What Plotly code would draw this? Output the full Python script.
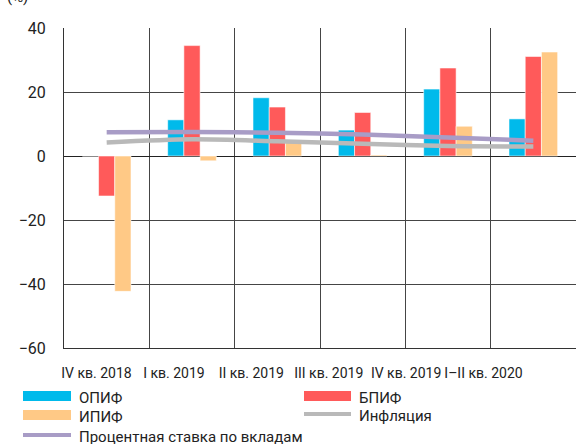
import plotly.graph_objects as go

categories = ["IV кв. 2018", "I кв. 2019", "II кв. 2019", "III кв. 2019", "IV кв. 2019", "I–II кв. 2020"]
opif = [0, 11.3, 18.2, 8.1, 20.9, 11.6]
bpif = [-12.5, 34.5, 15.3, 13.6, 27.5, 31.1]
ipif = [-42.3, -1.5, 4.3, 0.3, 9.3, 32.5]
inflation = [4.2, 5.2, 4.6, 3.8, 3.1, 3.0]
deposit_rate = [7.4, 7.5, 7.3, 6.7, 5.8, 4.8]
y_ticks = [-60, -40, -20, 0, 20, 40]

names = ["ОПИФ", "БПИФ", "ИПИФ", "Инфляция", "Процентная ставка по вкладам"]
C_BLUE = "#00baeb"
C_RED = "#ff5a5a"
C_YEL = "#ffc986"
C_GRAY = "#b9b9b9"
C_PURP = "#a89cc6"

FONT = "Roboto, sans-serif"

W, H = 577, 444
L, R, T, B = 64, 1, 28, 96
PW, PH = W - L - R, H - T - B


def px(x):
    return (x - L) / PW


def py(y):
    return (H - B - y) / PH


fig = go.Figure()
edge = dict(color="rgba(255,255,255,0.55)", width=1)
fig.add_trace(go.Bar(x=categories, y=opif, name=names[0], marker=dict(color=C_BLUE, line=edge)))
fig.add_trace(go.Bar(x=categories, y=bpif, name=names[1], marker=dict(color=C_RED, line=edge)))
fig.add_trace(go.Bar(x=categories, y=ipif, name=names[2], marker=dict(color=C_YEL, line=edge)))
fig.add_trace(go.Scatter(x=categories, y=inflation, name=names[3], mode="lines",
                         line=dict(color=C_GRAY, width=4.5, shape="spline", smoothing=0.8)))
fig.add_trace(go.Scatter(x=categories, y=deposit_rate, name=names[4], mode="lines",
                         line=dict(color=C_PURP, width=4.5, shape="spline", smoothing=0.8)))
# carrier for the label axis
fig.add_trace(go.Scatter(x=list(range(len(categories))), y=[0] * len(categories), xaxis="x2",
                         mode="markers", marker=dict(opacity=0), hoverinfo="skip", showlegend=False))

GRID = "#454545"
fig.update_layout(
    width=W, height=H,
    margin=dict(l=L, r=R, t=T, b=B, autoexpand=False),
    paper_bgcolor="white", plot_bgcolor="white",
    barmode="group", bargap=0.43, bargroupgap=0,
    showlegend=False,
    font=dict(family=FONT, size=16, color="#222"),
    xaxis=dict(type="category", range=[-0.5, 5.5], tickson="boundaries", automargin=False,
               showticklabels=False, ticks="", showgrid=True, gridcolor=GRID, gridwidth=1,
               showline=True, linecolor="#333", linewidth=1),
    xaxis2=dict(overlaying="x", anchor="y", side="bottom", range=[-0.42, 6.195], automargin=False,
                tickvals=list(range(len(categories))), ticktext=categories, tickangle=0,
                showgrid=False, showline=False, zeroline=False,
                ticks="outside", ticklen=12, tickcolor="rgba(0,0,0,0)",
                tickfont=dict(family=FONT, size=14, color="#222")),
    yaxis=dict(range=[-60, 40], tickvals=y_ticks, showgrid=True, gridcolor=GRID, gridwidth=1,
               automargin=False,
               zeroline=True, zerolinecolor="#222", zerolinewidth=1,
               showline=True, linecolor="#333", linewidth=1,
               ticks="outside", ticklen=14, tickcolor="rgba(0,0,0,0)",
               tickfont=dict(family=FONT, size=16, color="#222")),
)

fig.add_annotation(text="(%)", xref="paper", yref="paper", x=px(17), y=py(-3),
                   xanchor="center", yanchor="middle", showarrow=False,
                   font=dict(family=FONT, size=15, color="#222"))

# legend
shapes = []
legend_items = [
    (names[0], "rect", C_BLUE, 23, 71, 396, 77),
    (names[1], "rect", C_RED, 304, 351, 396, 357),
    (names[2], "rect", C_YEL, 23, 71, 415, 77),
    (names[3], "line", C_GRAY, 304, 351, 414, 357),
    (names[4], "line", C_PURP, 23, 71, 435, 77),
]
for name, kind, color, x0, x1, yc, tx in legend_items:
    if kind == "rect":
        shapes.append(dict(type="rect", xref="paper", yref="paper", x0=px(x0), x1=px(x1),
                           y0=py(yc + 5), y1=py(yc - 5), fillcolor=color, line=dict(width=0)))
    else:
        shapes.append(dict(type="line", xref="paper", yref="paper", x0=px(x0), x1=px(x1),
                           y0=py(yc), y1=py(yc), line=dict(color=color, width=4)))
    fig.add_annotation(text=name, xref="paper", yref="paper", x=px(tx), y=py(yc + 2),
                       xanchor="left", yanchor="middle", showarrow=False,
                       font=dict(family=FONT, size=15, color="#222"))
fig.update_layout(shapes=shapes)

fig.write_html("out.html", config={"displayModeBar": False},
               post_script="document.body.style.margin='0';document.body.style.overflow='hidden';")
